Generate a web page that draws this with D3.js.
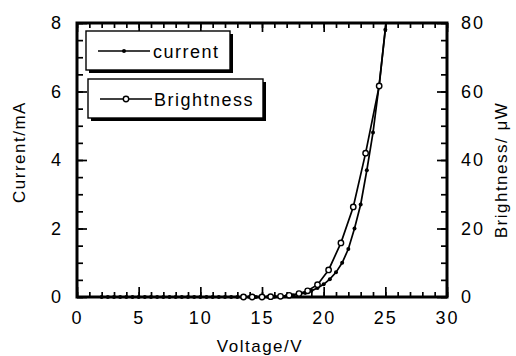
<!DOCTYPE html>
<html>
<head>
<meta charset="utf-8">
<script src="https://cdn.jsdelivr.net/npm/d3@7"></script>
<style>
  body { margin: 0; background: #fff; }
  text { font-family: "Liberation Sans", Arial, sans-serif; fill: #000; }
</style>
</head>
<body>
<svg id="chart" width="516" height="356"></svg>
<script>
// current (mA), small filled dots
var currentV = [2, 2.5, 3, 3.5, 4, 4.5, 5, 5.5, 6, 6.5, 7, 7.5, 8, 8.5, 9, 9.5, 10, 10.5, 11, 11.5,
                12, 12.5, 13, 13.5, 14, 14.5, 15, 15.5, 16, 16.5, 17, 17.5, 18, 18.5, 19, 19.5,
                20, 20.5, 21, 21.5, 22, 22.5, 23, 23.5, 24, 24.5, 25, 25.5];
var currentI = [0, 0, 0, 0, 0, 0, 0, 0, 0, 0, 0, 0, 0, 0, 0, 0, 0, 0, 0, 0,
                0, 0, 0, 0, 0, 0, 0, 0.005, 0.01, 0.02, 0.03, 0.05, 0.08, 0.12, 0.18, 0.26,
                0.37, 0.52, 0.72, 1.0, 1.4, 2.0, 2.7, 3.7, 4.8, 6.2, 7.8, 9.8];

// brightness (uW), open circles
var brightV = [13.5, 14.2, 15, 15.7, 16.5, 17.2, 18, 18.7, 19.5, 20.4, 21.4, 22.4, 23.4, 24.5, 25.4];
var brightB = [0, 0, 0, 0.1, 0.2, 0.5, 1, 1.8, 3.6, 7.9, 15.8, 26.3, 42, 61.6, 92];

var xTicks = [0, 5, 10, 15, 20, 25, 30];
var yTicks = [0, 2, 4, 6, 8];
var y2Ticks = [0, 20, 40, 60, 80];

var legendItems = ["current", "Brightness"];

var margin = {left: 77, right: 69, top: 23, bottom: 59},
    width = 516 - margin.left - margin.right,
    height = 356 - margin.top - margin.bottom;

var svg = d3.select("#chart");
var g = svg.append("g").attr("transform", "translate(" + margin.left + "," + margin.top + ")");

var x = d3.scaleLinear().domain([0, 30]).range([0, width]);
var y = d3.scaleLinear().domain([0, 8]).range([height, 0]);
var y2 = d3.scaleLinear().domain([0, 80]).range([height, 0]);

svg.append("defs").append("clipPath").attr("id", "plot-clip")
  .append("rect").attr("x", -5).attr("y", 0).attr("width", width + 5).attr("height", height + 5);

var font = "18px";

function noDomain(s) { s.select(".domain").remove(); }

// bottom
var xMinor = d3.range(0, 31, 1);
g.append("g").attr("transform", "translate(0," + height + ")")
  .call(d3.axisBottom(x).tickValues(xMinor).tickSize(-5).tickFormat(""))
  .call(noDomain);
g.append("g").attr("class", "xaxis").attr("transform", "translate(0," + height + ")")
  .call(d3.axisBottom(x).tickValues(xTicks).tickSize(-10).tickPadding(14).tickFormat(d3.format("d")))
  .call(noDomain);
// top
g.append("g")
  .call(d3.axisTop(x).tickValues(xMinor).tickSize(-5).tickFormat(""))
  .call(noDomain);
g.append("g")
  .call(d3.axisTop(x).tickValues(xTicks).tickSize(-9).tickFormat(""))
  .call(noDomain);
// left
g.append("g")
  .call(d3.axisLeft(y).tickValues(d3.range(0, 8.01, 0.5)).tickSize(-6).tickFormat(""))
  .call(noDomain);
g.append("g").attr("class", "yaxis")
  .call(d3.axisLeft(y).tickValues(yTicks).tickSize(-10).tickPadding(14).tickFormat(d3.format("d")))
  .call(noDomain);
// right
g.append("g").attr("transform", "translate(" + width + ",0)")
  .call(d3.axisRight(y2).tickValues(d3.range(0, 80.1, 5)).tickSize(-6).tickFormat(""))
  .call(noDomain);
g.append("g").attr("class", "y2axis").attr("transform", "translate(" + width + ",0)")
  .call(d3.axisRight(y2).tickValues(y2Ticks).tickSize(-10).tickPadding(14).tickFormat(d3.format("d")))
  .call(noDomain);

g.selectAll(".tick line").attr("stroke", "#000").attr("stroke-width", 1.7);
g.selectAll(".tick text").style("font-size", font).style("letter-spacing", "2px")
  .attr("fill", "#000").style("font-family", "'Liberation Sans', Arial, sans-serif");

// frame
g.append("rect").attr("width", width).attr("height", height)
  .attr("fill", "none").attr("stroke", "#000").attr("stroke-width", 3);

// curves
var plot = g.append("g").attr("clip-path", "url(#plot-clip)");
var cur = currentV.map(function(v, i) { return [v, currentI[i]]; });
var bri = brightV.map(function(v, i) { return [v, brightB[i]]; });

plot.append("path").datum(cur)
  .attr("fill", "none").attr("stroke", "#000").attr("stroke-width", 1.7)
  .attr("d", d3.line().x(function(d) { return x(d[0]); }).y(function(d) { return y(d[1]); }));
plot.append("path").datum(bri)
  .attr("fill", "none").attr("stroke", "#000").attr("stroke-width", 1.7)
  .attr("d", d3.line().x(function(d) { return x(d[0]); }).y(function(d) { return y2(d[1]); }));

plot.selectAll(".dot").data(cur).enter().append("circle")
  .attr("cx", function(d) { return x(d[0]); })
  .attr("cy", function(d) { return y(d[1]); })
  .attr("r", 2).attr("fill", "#000");
plot.selectAll(".ring").data(bri).enter().append("circle")
  .attr("cx", function(d) { return x(d[0]); })
  .attr("cy", function(d) { return y2(d[1]); })
  .attr("r", 2.7).attr("fill", "#fff").attr("stroke", "#000").attr("stroke-width", 1.4);

// legend boxes with drop shadow
var boxes = [
  {x: 9, y: 8, w: 144, h: 39},
  {x: 11, y: 56, w: 175, h: 39}
];
var leg = g.selectAll(".legend").data(legendItems).enter().append("g")
  .attr("class", "legend")
  .attr("transform", function(d, i) { return "translate(" + boxes[i].x + "," + boxes[i].y + ")"; });

leg.append("rect")
  .attr("x", 3).attr("y", 3)
  .attr("width", function(d, i) { return boxes[i].w; })
  .attr("height", function(d, i) { return boxes[i].h; })
  .attr("fill", "#000");
leg.append("rect")
  .attr("width", function(d, i) { return boxes[i].w; })
  .attr("height", function(d, i) { return boxes[i].h; })
  .attr("fill", "#fff").attr("stroke", "#000").attr("stroke-width", 1.4);

leg.append("line")
  .attr("x1", 12).attr("x2", 64).attr("y1", 20).attr("y2", 20)
  .attr("stroke", "#000").attr("stroke-width", 1.6);
leg.each(function(d, i) {
  var s = d3.select(this);
  if (i === 0) {
    s.append("circle").attr("cx", 38).attr("cy", 20).attr("r", 2).attr("fill", "#000");
  } else {
    s.append("circle").attr("cx", 38).attr("cy", 20).attr("r", 2.7)
      .attr("fill", "#fff").attr("stroke", "#000").attr("stroke-width", 1.4);
  }
});
leg.append("text")
  .attr("x", function(d, i) { return i === 0 ? 67 : 66; })
  .attr("y", 26.5)
  .style("font-size", font).style("letter-spacing", "1.5px")
  .text(function(d) { return d; });

// axis titles
svg.append("text")
  .attr("transform", "translate(25,152) rotate(-90)")
  .attr("text-anchor", "middle")
  .style("font-size", "17px").style("letter-spacing", "1.5px")
  .text("Current/mA");
svg.append("text")
  .attr("transform", "translate(507,170) rotate(-90)")
  .attr("text-anchor", "middle")
  .style("font-size", "17px").style("letter-spacing", "1.5px")
  .text("Brightness/ \u03bcW");
svg.append("text")
  .attr("x", 260).attr("y", 352)
  .attr("text-anchor", "middle")
  .style("font-size", "17px").style("letter-spacing", "1.5px")
  .text("Voltage/V");
</script>
</body>
</html>
